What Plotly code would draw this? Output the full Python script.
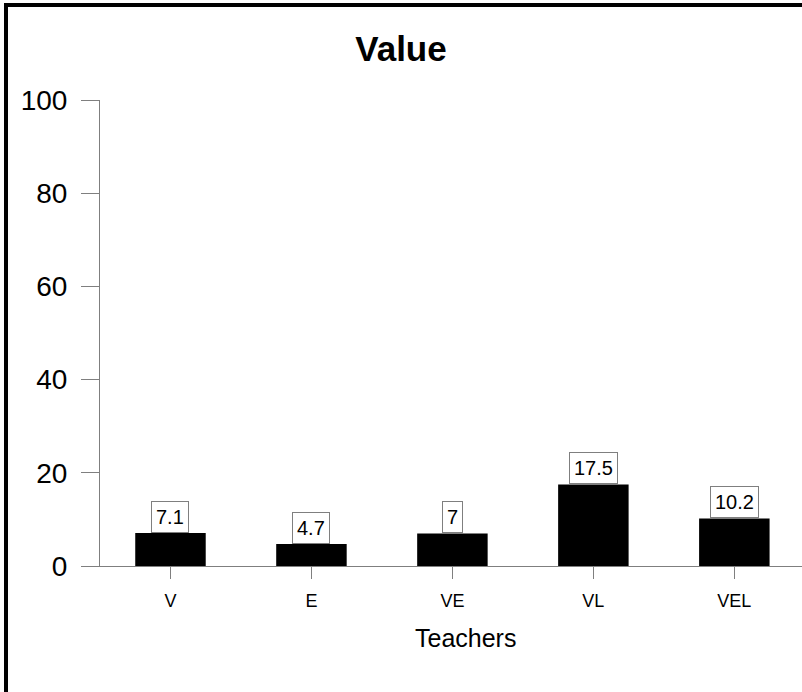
import plotly.graph_objects as go

# Data
teachers = ['V', 'E', 'VE', 'VL', 'VEL']
values = [7.1, 4.7, 7, 17.5, 10.2]
value_labels = ['7.1', '4.7', '7', '17.5', '10.2']
y_ticks = [0, 20, 40, 60, 80, 100]

FONT = 'Liberation Sans, Arial, sans-serif'
AXIS_GREY = '#7f7f7f'

fig = go.Figure()

fig.add_trace(go.Bar(
    x=teachers,
    y=values,
    width=0.5,
    marker=dict(color='black', line=dict(width=0)),
    hovertemplate='%{x}: %{y}<extra></extra>'
))

# Value boxes sitting on top of each bar
for name, val, lab in zip(teachers, values, value_labels):
    fig.add_annotation(
        x=name, y=val, text=lab,
        showarrow=False, yanchor='bottom',
        font=dict(family=FONT, size=20, color='black'),
        bgcolor='white', bordercolor=AXIS_GREY, borderwidth=1, borderpad=4
    )

# x axis title (sits a little right of the plot centre in the original)
fig.add_annotation(
    text='Teachers', xref='paper', yref='paper',
    x=0.52, y=-0.1545, xanchor='center', yanchor='middle',
    showarrow=False, font=dict(family=FONT, size=25, color='black')
)

# Outer frame (only left and top visible in the picture)
fig.add_shape(
    type='rect', xref='paper', yref='paper',
    x0=-0.1339, x1=1.05, y0=-0.3, y1=1.2036,
    line=dict(color='black', width=4), fillcolor='rgba(0,0,0,0)'
)

fig.update_layout(
    width=802, height=692,
    margin=dict(l=100, r=0, t=100, b=126),
    paper_bgcolor='white', plot_bgcolor='white',
    font=dict(family=FONT, color='black'),
    showlegend=False,
    title=dict(
        text='<b>Value</b>', x=0.5, xref='container', xanchor='center',
        y=1 - 49 / 692, yref='container', yanchor='middle',
        font=dict(family=FONT, size=35, color='black')
    ),
    xaxis=dict(
        range=[-0.5, 4.48],
        showline=True, linecolor=AXIS_GREY, linewidth=1,
        ticks='outside', ticklen=12, tickcolor=AXIS_GREY, tickwidth=1,
        tickfont=dict(family=FONT, size=18, color='black'),
        ticklabelstandoff=6,
        showgrid=False, zeroline=False
    ),
    yaxis=dict(
        range=[0, 100], tickvals=y_ticks,
        showline=True, linecolor=AXIS_GREY, linewidth=1,
        ticks='outside', ticklen=18, tickcolor=AXIS_GREY, tickwidth=1,
        tickfont=dict(family=FONT, size=28, color='black'),
        ticklabelstandoff=8,
        showgrid=False, zeroline=False
    )
)

fig.write_html("out.html", config={'displayModeBar': False},
               post_script="document.body.style.margin='0px';")
